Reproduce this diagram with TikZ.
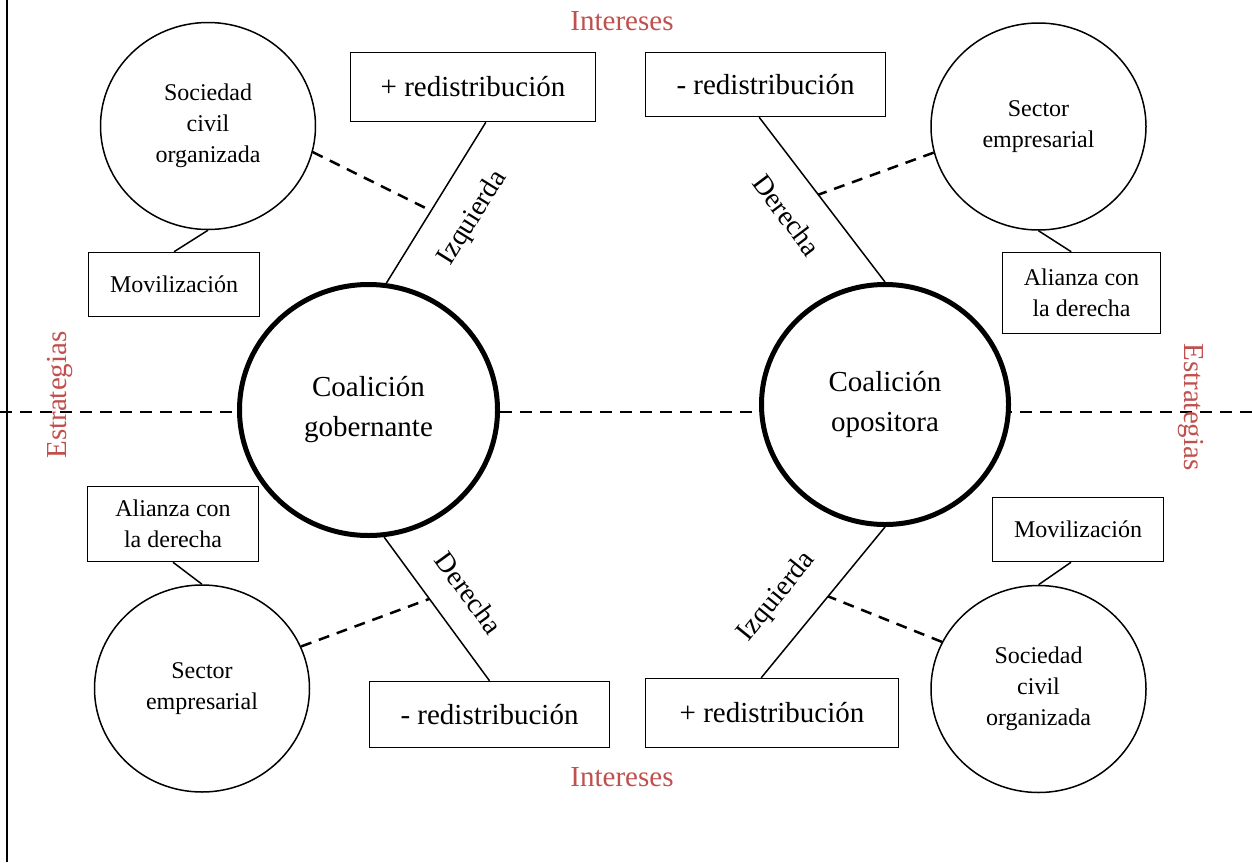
\documentclass[tikz,border=0pt]{standalone}
\usepackage{fontspec}
\setmainfont{Liberation Serif}
\usetikzlibrary{shapes.geometric}
\definecolor{rojo}{RGB}{192,80,77}

\begin{document}
\begin{tikzpicture}[x=1pt,y=-1pt,
  lazo/.style={line width=1.5pt},
  apoyo/.style={line width=2.5pt,dash pattern=on 11pt off 8pt},
  eje/.style={line width=2.5pt,dash pattern=on 12pt off 8pt},
  caja/.style={draw,line width=1.5pt,fill=white,inner sep=0pt,align=center,font=\fontsize{24}{31}\selectfont},
  cajagrande/.style={caja,font=\fontsize{29}{34}\selectfont},
  actor/.style={ellipse,draw,line width=1.5pt,fill=white,inner sep=0pt,align=center,minimum width=215pt,minimum height=207pt,font=\fontsize{24}{31}\selectfont},
  coalicion/.style={ellipse,draw,line width=5pt,fill=white,inner sep=0pt,align=center,font=\fontsize{29}{40}\selectfont},
  etiqueta/.style={inner sep=0pt,font=\fontsize{28}{30}\selectfont},
  titulo/.style={inner sep=0pt,text=rojo,font=\fontsize{29}{30}\selectfont}]

\useasboundingbox (0,0) rectangle (1252,862);

% marco y eje de estrategias
\coordinate (margenN) at (7,0);
\coordinate (margenS) at (7,862);
\draw[lazo] (margenN) -- (margenS);
\coordinate (ejeW) at (0,412);
\coordinate (ejeE) at (1252,412);
\draw[eje] (ejeW) -- (ejeE);

% coaliciones
\node[coalicion,minimum width=258pt,minimum height=251pt] (gobierno) at (368.5,410) {Coalición\\gobernante};
\node[coalicion,minimum width=247pt,minimum height=240pt] (oposicion) at (885,404.5) {Coalición\\opositora};

% arriba izquierda
\node[actor] (sociedadL) at (208,126) {Sociedad\\civil\\organizada};
\node[caja,minimum width=171pt,minimum height=64pt] (movL) at (174,284.5) {Movilización};
\node[cajagrande,minimum width=245pt,minimum height=69pt] (masL) at (473,87) {+ redistribución};
\draw[lazo] (sociedadL.south) -- (movL.north);
\draw[lazo] (masL.-70) -- coordinate[pos=0.55] (izqL) (gobierno.82);
\draw[apoyo] (sociedadL.-14) -- (izqL);
\node[etiqueta,rotate=58] (izqLtxt) at (473,218) {Izquierda};

% arriba derecha
\node[cajagrande,minimum width=240pt,minimum height=64pt] (menosR) at (765.5,84.5) {- redistribución};
\node[actor] (empresaR) at (1038.5,126.5) {Sector\\empresarial};
\node[caja,minimum width=158pt,minimum height=81pt] (alianzaR) at (1081.5,293) {Alianza con\\la derecha};
\draw[lazo] (menosR.-101) -- coordinate[pos=0.47] (derR) (oposicion.north);
\draw[apoyo] (empresaR.194) -- (derR);
\draw[lazo] (empresaR.south) -- (alianzaR.104);
\node[etiqueta,rotate=-53] (derRtxt) at (787,215) {Derecha};

% abajo izquierda
\node[caja,minimum width=171pt,minimum height=75pt] (alianzaL) at (173,524) {Alianza con\\la derecha};
\node[actor] (empresaL) at (202,688.5) {Sector\\empresarial};
\node[cajagrande,minimum width=240pt,minimum height=66pt] (menosL) at (489.5,714.5) {- redistribución};
\draw[lazo] (alianzaL.south) -- (empresaL.north);
\draw[lazo] (gobierno.-83) -- coordinate[pos=0.43] (derL) (menosL.north);
\draw[apoyo] (empresaL.23) -- (derL);
\node[etiqueta,rotate=-54] (derLtxt) at (469,593) {Derecha};

% abajo derecha
\node[cajagrande,minimum width=253pt,minimum height=69pt] (masR) at (772,713) {+ redistribución};
\node[actor] (sociedadR) at (1038.5,689) {Sociedad\\civil\\organizada};
\node[caja,minimum width=171pt,minimum height=64pt] (movR) at (1078,529.5) {Movilización};
\draw[lazo] (oposicion.south) -- coordinate[pos=0.46] (izqR) (masR.107);
\draw[apoyo] (sociedadR.154) -- (izqR);
\draw[lazo] (movR.-102) -- (sociedadR.north);
\node[etiqueta,rotate=51] (izqRtxt) at (777,597) {Izquierda};

% ejes
\node[titulo] (interesN) at (622,21) {Intereses};
\node[titulo] (interesS) at (622,777) {Intereses};
\node[titulo,rotate=90] (estrategiaW) at (60,395) {Estrategias};
\node[titulo,rotate=-90] (estrategiaE) at (1191,407) {Estrategias};

\end{tikzpicture}
\end{document}
